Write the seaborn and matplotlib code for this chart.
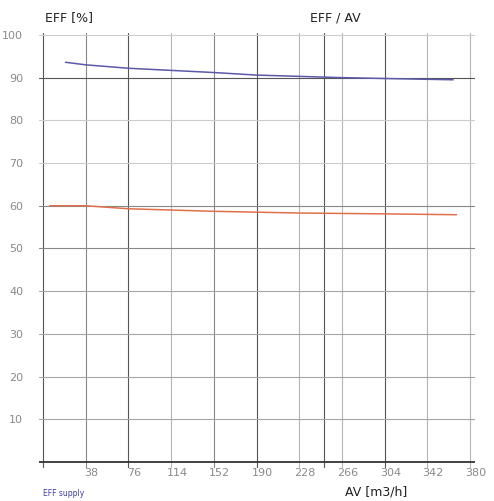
import pandas as pd
import seaborn as sns
import matplotlib.pyplot as plt
from matplotlib import transforms

# values
supply_av = [20, 38, 76, 114, 152, 190, 228, 266, 304, 365]
supply_eff = [93.6, 93.0, 92.2, 91.7, 91.2, 90.6, 90.3, 90.0, 89.8, 89.5]
extract_av = [6, 38, 76, 114, 152, 190, 228, 266, 304, 368]
extract_eff = [60.0, 60.0, 59.3, 59.0, 58.7, 58.5, 58.3, 58.2, 58.1, 57.9]

x_ticks = [38, 76, 114, 152, 190, 228, 266, 304, 342, 380]
y_ticks = [10, 20, 30, 40, 50, 60, 70, 80, 90, 100]

supply = pd.DataFrame({'AV': supply_av, 'EFF': supply_eff})
extract = pd.DataFrame({'AV': extract_av, 'EFF': extract_eff})

sns.set_style('white')
fig = plt.figure(figsize=(4.94, 5.01), dpi=100)
ax = fig.add_axes([38.5 / 494, 1 - 468.4 / 501, 436 / 494, 442 / 501])
ax.set_xlim(-4, 384)
ax.set_ylim(-1.5, 102)
for s in ax.spines.values():
    s.set_visible(False)

# vertical grid lines
vcol = {0: '#555555', 38: '#888888', 76: '#555555', 114: '#b5b5b5', 152: '#888888',
        190: '#555555', 228: '#b5b5b5', 250: '#555555', 266: '#b5b5b5', 304: '#555555',
        342: '#b5b5b5', 380: '#b5b5b5'}
for xv, c in vcol.items():
    ax.axvline(xv, ymin=0, ymax=0.985, color=c, lw=0.8, zorder=1)

# horizontal grid lines
hcol = {100: '#cccccc', 90: '#555555', 80: '#cccccc', 70: '#cccccc', 60: '#888888',
        50: '#888888', 40: '#a5a5a5', 30: '#a5a5a5', 20: '#a5a5a5', 10: '#a5a5a5'}
for yv, c in hcol.items():
    ax.axhline(yv, color=c, lw=0.8, zorder=1)
ax.axhline(0, color='#333333', lw=1.3, zorder=2)

sns.lineplot(data=supply, x='AV', y='EFF', ax=ax, color='#5a5aa8', lw=1.1, zorder=3)
sns.lineplot(data=extract, x='AV', y='EFF', ax=ax, color='#e0704a', lw=1.1, zorder=3)

ax.set_xticks(x_ticks)
ax.set_xticklabels([str(v) for v in x_ticks])
ax.set_yticks(y_ticks)
ax.set_yticklabels([str(v) for v in y_ticks])
ax.tick_params(axis='both', length=0, labelsize=8, labelcolor='#8a8a8a')
ax.tick_params(axis='x', pad=0)
ax.tick_params(axis='y', pad=11)
off = transforms.ScaledTranslation(6 / 100, 0, fig.dpi_scale_trans)
for lab in ax.get_xticklabels():
    lab.set_transform(lab.get_transform() + off)
ax.set_xlabel('')
ax.set_ylabel('')

fig.text(45 / 494, 1 - 18 / 501, 'EFF [%]', fontsize=9, color='#222222', va='center')
fig.text(310 / 494, 1 - 18 / 501, 'EFF / AV', fontsize=9, color='#222222', va='center')
fig.text(345 / 494, 1 - 492 / 501, 'AV [m3/h]', fontsize=9, color='#222222', va='center')
fig.text(43 / 494, 1 - 493 / 501, 'EFF supply', fontsize=5.5, color='#4040a0', va='center')

fig.savefig('out.png', dpi=100)
